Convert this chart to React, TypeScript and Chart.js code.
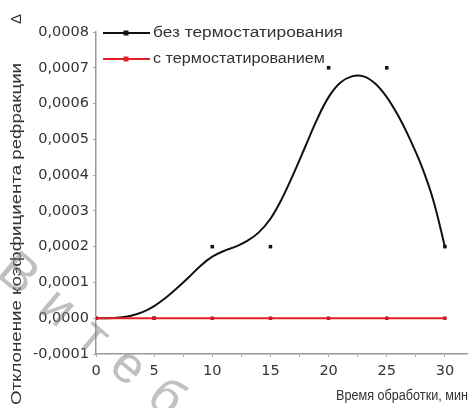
import { useEffect, useRef } from "react";
import { Chart, registerables } from "chart.js";
Chart.register(...registerables);

const timeMinutes = [0, 5, 10, 15, 20, 25, 30];
const withoutThermo = [0, 0, 0.0002, 0.0002, 0.0007, 0.0007, 0.0002];
const withThermo = [0, 0, 0, 0, 0, 0, 0];
const fitX = [0, 1, 2, 3, 4, 5, 6, 7, 8, 9, 10, 11, 12, 13, 14, 15, 16, 17, 18, 19, 20, 21, 22, 23, 24, 25, 26, 27, 28, 29, 30];
const fitY = [0, 0, 0.000002, 0.000007, 0.000017, 0.000034, 0.000057, 0.000085, 0.000115, 0.000147, 0.000172, 0.000188, 0.0002, 0.000216, 0.00024, 0.000278, 0.000335, 0.000405, 0.00048, 0.000555, 0.000618, 0.000658, 0.000676, 0.000676, 0.000656, 0.000618, 0.000565, 0.0005, 0.000425, 0.00033, 0.0002];
const seriesLabels = ["без термостатирования", "с термостатированием"];
const seriesColors = ["#111111", "#e0202a"];
const xTitle = "Время обработки, мин";
const yTitle = "Отклонение коэффициента рефракции";
const yTitleSymbol = "Δ";
const watermark = "Витеб";

function fitText(ctx: CanvasRenderingContext2D, text: string, x: number, y: number, w: number) {
  const m = ctx.measureText(text).width;
  const s = w / m;
  ctx.save();
  ctx.translate(x, y);
  ctx.scale(s, 1);
  ctx.fillText(text, 0, 0);
  ctx.restore();
}

const decorPlugin = {
  id: "decor",
  afterDraw(chart: any) {
    const ctx: CanvasRenderingContext2D = chart.ctx;
    ctx.save();
    // legend
    const rows = [33, 59];
    seriesLabels.forEach((lab, i) => {
      const y = rows[i];
      ctx.strokeStyle = seriesColors[i];
      ctx.fillStyle = seriesColors[i];
      ctx.lineWidth = 2;
      ctx.beginPath();
      ctx.moveTo(103, y);
      ctx.lineTo(150, y);
      ctx.stroke();
      ctx.fillRect(123.5, y - 2.5, 5, 5);
      ctx.fillStyle = "#333";
      ctx.font = "14px 'Liberation Sans'";
      ctx.textBaseline = "middle";
      ctx.textAlign = "left";
      fitText(ctx, lab, 153, y, i === 0 ? 190 : 172);
    });
    // x title
    ctx.fillStyle = "#333";
    ctx.font = "14px 'Liberation Sans'";
    ctx.textBaseline = "middle";
    fitText(ctx, xTitle, 336, 396, 132);
    // y title
    ctx.save();
    ctx.translate(17, 405);
    ctx.rotate(-Math.PI / 2);
    ctx.font = "15px 'Liberation Sans'";
    fitText(ctx, yTitle, 0, 0, 342);
    ctx.restore();
    ctx.save();
    ctx.translate(17, 24);
    ctx.rotate(-Math.PI / 2);
    ctx.font = "15px 'Liberation Sans'";
    ctx.fillText(yTitleSymbol, 0, 0);
    ctx.restore();
    // watermark
    ctx.save();
    ctx.translate(4, 264);
    ctx.rotate((40 * Math.PI) / 180);
    ctx.font = "52px 'Liberation Sans'";
    (ctx as any).letterSpacing = "20px";
    ctx.fillStyle = "rgba(130,130,130,0.5)";
    ctx.textBaseline = "middle";
    ctx.fillText(watermark, 0, 0);
    ctx.restore();
    ctx.restore();
  },
};

const fmt = (v: number) => {
  const n = Math.abs(v) < 1e-9 ? 0 : v;
  return n.toFixed(4).replace(".", ",");
};

export default function App() {
  const ref = useRef<HTMLCanvasElement>(null);
  useEffect(() => {
    document.body.style.margin = "0";
    const chart = new Chart(ref.current!, {
      type: "line",
      data: {
        datasets: [
          {
            label: seriesLabels[1],
            data: timeMinutes.map((x, i) => ({ x, y: withThermo[i] })),
            borderColor: seriesColors[1],
            backgroundColor: "#cc1a25",
            borderWidth: 2,
            pointStyle: "rect",
            pointRadius: 2.5,
            pointBorderWidth: 0,
            tension: 0,
          },
          {
            label: seriesLabels[0],
            data: timeMinutes.map((x, i) => ({ x, y: withoutThermo[i] })),
            showLine: false,
            borderColor: seriesColors[0],
            backgroundColor: seriesColors[0],
            pointStyle: "rect",
            pointRadius: 2.5,
            pointBorderWidth: 0,
          },
          {
            label: "fit",
            data: fitX.map((x, i) => ({ x, y: fitY[i] })),
            borderColor: seriesColors[0],
            borderWidth: 2,
            pointRadius: 0,
            tension: 0.4,
          },
        ],
      },
      options: {
        animation: false,
        responsive: false,
        layout: { padding: { top: 32, left: 0, right: 0, bottom: 0 } },
        plugins: { legend: { display: false }, tooltip: { enabled: false } },
        scales: {
          x: {
            type: "linear",
            min: 0,
            max: 31.9,
            afterFit: (s: any) => {
              s.height = 54;
            },
            border: { color: "#999", width: 1.5 },
            grid: { drawOnChartArea: false, tickLength: 3, color: "#aaa" },
            ticks: {
              stepSize: 2.5,
              includeBounds: false,
              autoSkip: false,
              maxRotation: 0,
              padding: 6,
              color: "#333",
              font: { family: "'DejaVu Sans'", size: 14.5 },
              callback: (v: any) => (Number(v) % 5 === 0 ? String(v) : ""),
            },
          },
          y: {
            min: -0.0001,
            max: 0.0008,
            afterFit: (s: any) => {
              s.width = 96;
            },
            border: { color: "#999", width: 1.5 },
            grid: { drawOnChartArea: false, tickLength: 3, color: "#aaa" },
            ticks: {
              stepSize: 0.0001,
              padding: 4,
              color: "#333",
              font: { family: "'DejaVu Sans'", size: 14.5 },
              callback: (v: any) => fmt(Number(v)),
            },
          },
        },
      },
      plugins: [decorPlugin],
    } as any);
    return () => chart.destroy();
  }, []);
  return (
    <div style={{ width: 471, height: 408, background: "#fff" }}>
      <canvas ref={ref} width={471} height={408} />
    </div>
  );
}
